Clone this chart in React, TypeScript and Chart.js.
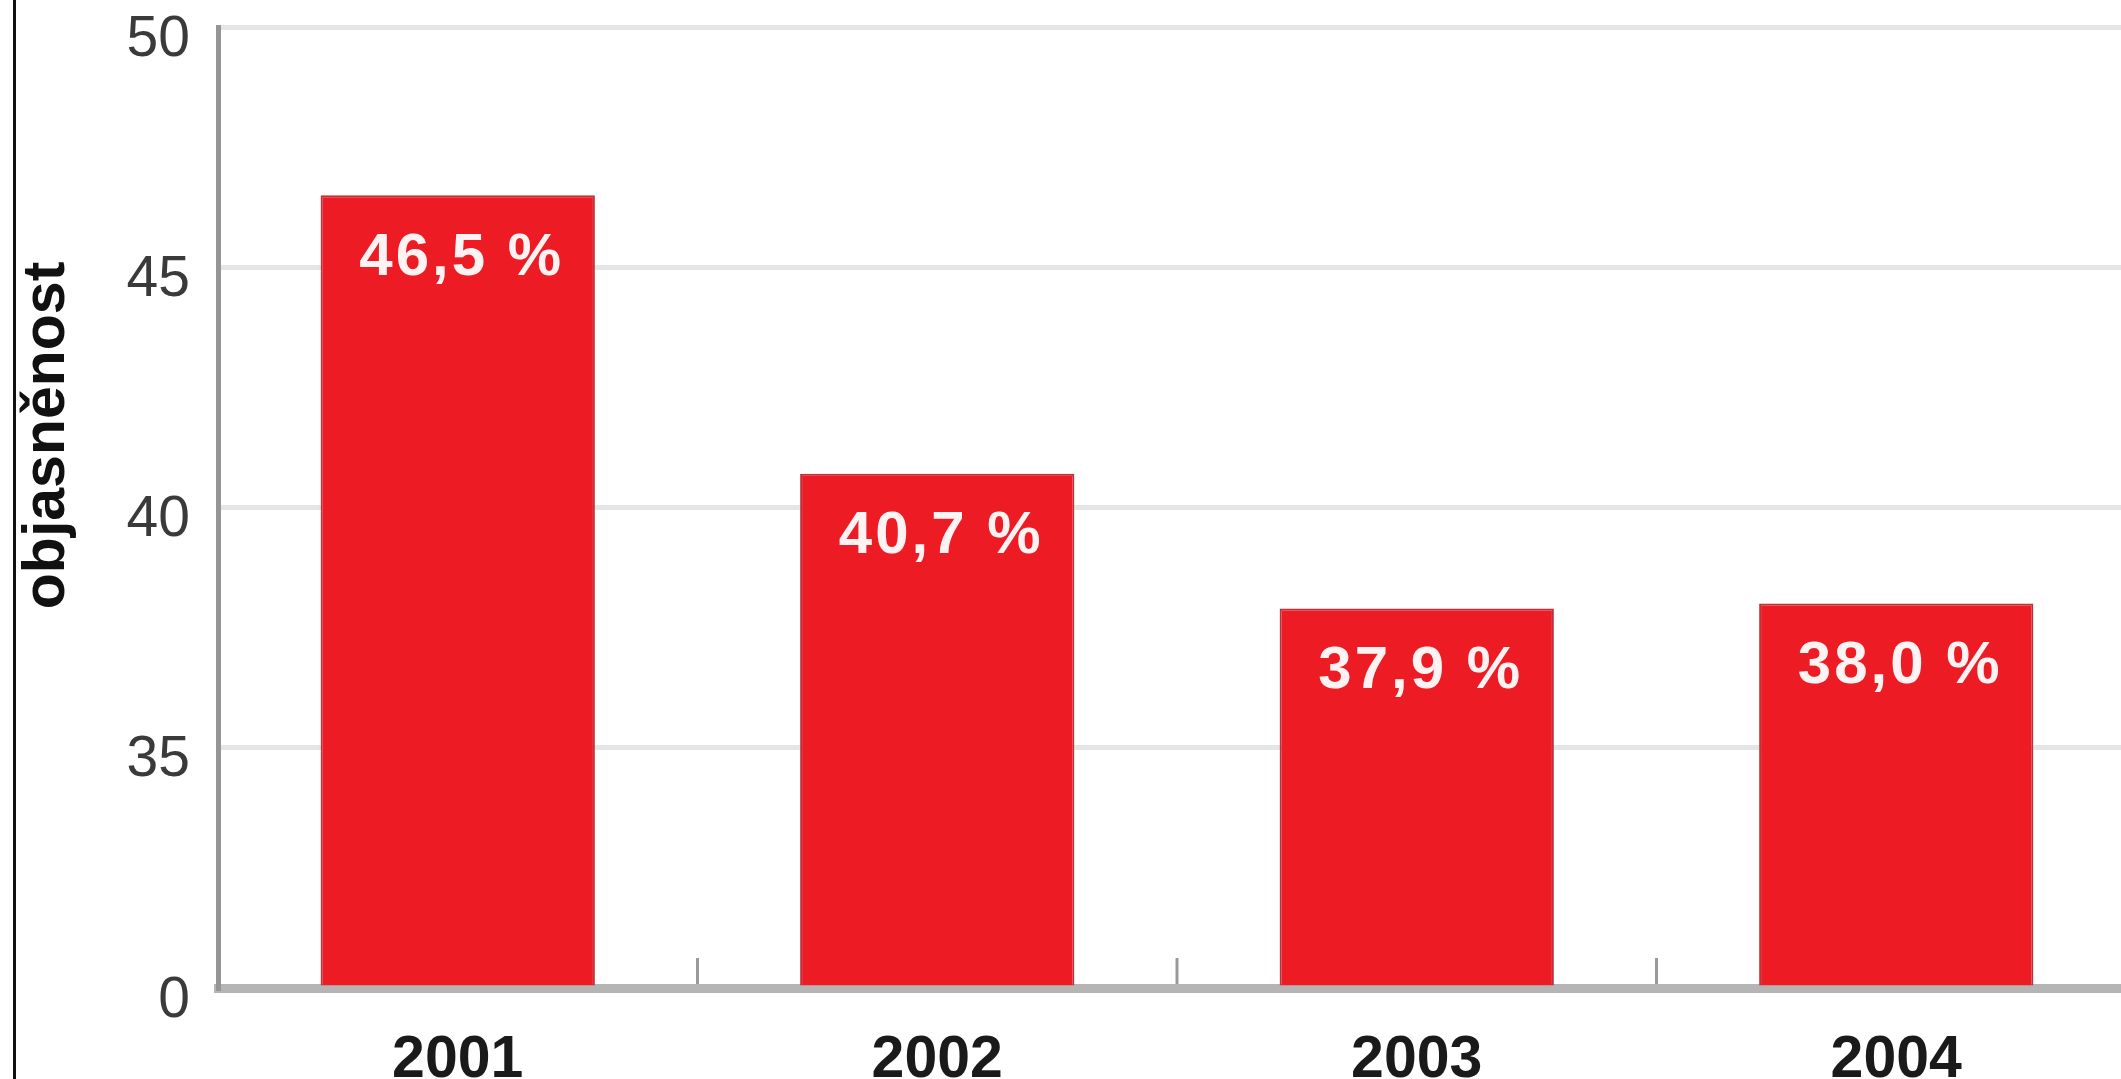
import React, { useEffect, useRef } from 'react';
import { Chart, registerables } from 'chart.js';

Chart.register(...registerables);

const categories = ['2001', '2002', '2003', '2004'];
const clearanceRate = [46.5, 40.7, 37.9, 38.0];
const yTickValues = [30, 35, 40, 45, 50];
const yTickLabels = ['0', '35', '40', '45', '50'];
const AXIS_MIN = 30;
const AXIS_MAX = 50;
const AXIS_STEP = 5;
const yTitle = 'objasněnost';

const FONT = '"Liberation Sans", Arial, Helvetica, sans-serif';

const fmt = (v: number) => v.toFixed(1).replace('.', ',') + ' %';

const decorPlugin = {
  id: 'decor',
  afterDatasetsDraw(chart: any) {
    const { ctx, chartArea } = chart;
    const x = chart.scales.x;
    ctx.save();
    // inner tick marks between categories
    ctx.strokeStyle = '#9a9a9a';
    ctx.lineWidth = 3;
    for (let i = 1; i < categories.length; i++) {
      const px = (x.getPixelForValue(i - 1) + x.getPixelForValue(i)) / 2;
      ctx.beginPath();
      ctx.moveTo(px, chartArea.bottom - 30);
      ctx.lineTo(px, chartArea.bottom - 4);
      ctx.stroke();
    }
    // value labels inside bars
    const meta = chart.getDatasetMeta(0);
    ctx.font = `bold 60px ${FONT}`;
    ctx.fillStyle = '#fff2f2';
    ctx.textAlign = 'center';
    ctx.textBaseline = 'middle';
    (ctx as any).letterSpacing = '3px';
    meta.data.forEach((bar: any, i: number) => {
      ctx.fillText(fmt(clearanceRate[i]), bar.x + 4, bar.y + 63);
    });
    (ctx as any).letterSpacing = '0px';
    // y axis title
    ctx.font = `bold 59px ${FONT}`;
    ctx.fillStyle = '#111';
    ctx.translate(48, chartArea.top + (chartArea.bottom - chartArea.top) * 0.425);
    ctx.rotate(-Math.PI / 2);
    ctx.fillText(yTitle, 0, 0);
    ctx.restore();
  },
};

export default function App() {
  const ref = useRef<HTMLCanvasElement | null>(null);

  useEffect(() => {
    if (!ref.current) return;
    const chart = new Chart(ref.current, {
      type: 'bar',
      data: {
        labels: categories,
        datasets: [
          {
            data: clearanceRate,
            base: AXIS_MIN,
            backgroundColor: '#ed1c24',
            borderColor: '#c0303a',
            borderWidth: 2,
            barPercentage: 0.572,
            categoryPercentage: 1,
          } as any,
        ],
      },
      options: {
        responsive: false,
        animation: false,
        events: [],
        layout: { padding: { top: 27, left: 0, right: 0, bottom: 0 } },
        plugins: {
          legend: { display: false },
          tooltip: { enabled: false },
          title: { display: false },
        },
        scales: {
          x: {
            grid: { display: false, drawTicks: false },
            border: { display: true, color: '#b5b5b5', width: 9 },
            ticks: {
              font: { family: FONT, size: 59, weight: 'bold' },
              color: '#1a1a1a',
              padding: 37,
              maxRotation: 0,
            },
            afterFit: (s: any) => {
              s.height = 91;
              s.paddingLeft = 0;
              s.paddingRight = 0;
            },
          },
          y: {
            min: AXIS_MIN,
            max: AXIS_MAX,
            grid: {
              drawTicks: false,
              lineWidth: 5,
              color: (c: any) => (c.tick && c.tick.value === AXIS_MIN ? 'rgba(0,0,0,0)' : '#e5e5e5'),
            },
            border: { display: true, color: '#959595', width: 5 },
            ticks: {
              stepSize: AXIS_STEP,
              font: { family: FONT, size: 57 },
              color: '#3a3a3a',
              padding: 28,
              labelOffset: 13,
              callback: (v: any) => {
                const i = yTickValues.indexOf(Number(v));
                return i >= 0 ? yTickLabels[i] : '';
              },
            },
            afterFit: (s: any) => {
              s.width = 218;
              s.paddingTop = 0;
              s.paddingBottom = 0;
            },
          },
        },
      } as any,
      plugins: [decorPlugin],
    });
    return () => chart.destroy();
  }, []);

  return (
    <div
      style={{
        position: 'fixed',
        left: 0,
        top: 0,
        width: 2121,
        height: 1079,
        overflow: 'hidden',
        background: '#fff',
      }}
    >
      <div
        style={{
          position: 'absolute',
          left: 13,
          top: 0,
          width: 3,
          height: 1079,
          background: '#111',
        }}
      />
      <canvas ref={ref} width={2136} height={1079} style={{ display: 'block' }} />
    </div>
  );
}
